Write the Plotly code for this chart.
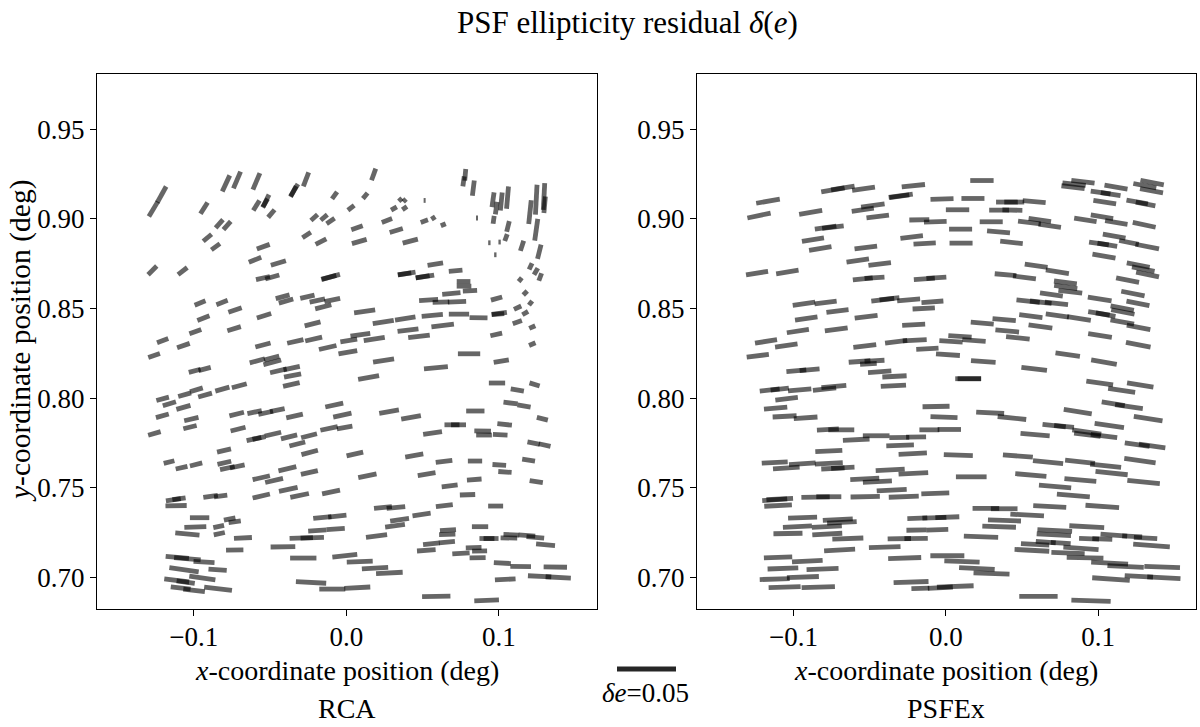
import plotly.graph_objects as go

# ---------------------------------------------------------------------------
# PSF ellipticity residual whiskers.
# For every star: position (deg), residual |delta e| and whisker orientation
# (degrees, counter-clockwise from the x axis).
# ---------------------------------------------------------------------------

# ---- RCA ----
rca_x = [
    -0.1264, -0.1209, -0.0788, -0.0716, -0.0589, -0.0341, -0.0347, -0.0264, -0.0526, -0.0589,
    -0.0532, -0.0491, -0.0932, -0.0077, -0.0832, -0.0781, -0.0910, -0.0856, -0.1270, -0.1072,
    -0.0210, -0.0146, -0.0103, -0.0260, -0.0166, -0.0544, -0.0598, -0.0445, -0.0546, -0.0485,
    -0.0103, -0.0113, -0.0958, -0.0814, -0.0729, -0.0936, -0.0539, -0.0417, -0.0395, -0.0255,
    -0.0190, -0.0092, -0.0151, -0.0221, -0.0989, -0.0735, -0.1203, -0.1067, -0.1259, -0.0546,
    -0.0334, -0.0214, -0.0122, -0.0583, -0.0489, -0.0485, -0.0993, -0.0928, -0.0445, -0.0358,
    -0.0352,
    0.0179, 0.0031, 0.0124, 0.0354, 0.0382, 0.0513, 0.0312, 0.0382, 0.0070, 0.0266,
    0.0511, 0.0570, 0.0635, 0.0327, 0.0085, 0.0419, 0.0768, 0.0779, 0.0832, 0.0961,
    0.0982, 0.1015, 0.1056, 0.0856, 0.0965, 0.1059, 0.1046, 0.0937, 0.1004, 0.0976,
    0.1151, 0.1203, 0.1244, 0.1295, 0.1299, 0.1244, 0.1264, 0.1207, 0.1242, 0.1270,
    0.1139, 0.1172, 0.1207, 0.1122, 0.1172, 0.1120, 0.1218, 0.1218, 0.0984, 0.1002,
    0.0993, 0.0982, 0.1015, 0.0583, 0.0716, 0.0395, 0.0382, 0.0515, 0.0500, 0.0768,
    0.0771, 0.0688, 0.0810, 0.0539, 0.0620, 0.0725, 0.0120, 0.0242, 0.0386, 0.0563,
    0.0738, 0.0866, 0.0631, 0.0404, 0.0476, 0.0092, 0.0183, 0.0016, 0.0010, 0.0244,
    0.0804, 0.0587, 0.0146,
    -0.1203, -0.1059, -0.0982, -0.0925, -0.0812, -0.0701, -0.0360, -0.1159, -0.1067, -0.1205,
    -0.1015, -0.1024, -0.1257, -0.0718, -0.0601, -0.0528, -0.0452, -0.0339, -0.0709, -0.0605,
    -0.0572, -0.0480, -0.0375, -0.0244, -0.0321, -0.0240, -0.0079, -0.0026, -0.0113, -0.0011,
    -0.0801, -0.1161, -0.1079, -0.0984, -0.0799, -0.0779, -0.0714, -0.0557, -0.0473, -0.0386,
    -0.0242, -0.1133, -0.1096, -0.1115, -0.0889, -0.0823, -0.0557, -0.0380, -0.0306, -0.0100,
    -0.0961, -0.0989, -0.1041, -0.0764, -0.0731, -0.0836, -0.0832, -0.0677, -0.0731, -0.0415,
    -0.0295, -0.0223, -0.0157, -0.0059, -0.0190, -0.0070, -0.1107, -0.1041, -0.0932, -0.0282,
    -0.0010, 0.0088, -0.1063, -0.0843, -0.0943, -0.1111, -0.1052, -0.1085, -0.0997, -0.0840,
    -0.0231, -0.0092, 0.0072,
    0.0987, 0.1120, 0.1233, 0.0280, 0.0424, 0.0845, 0.1076, 0.1164, 0.1284, 0.0692,
    0.0735, 0.0565, 0.0893, 0.1037, 0.0902, 0.1008, 0.1227, 0.1299, 0.0056, 0.0445,
    0.0640, 0.0843, 0.1002, 0.1039, 0.1194, 0.0138, 0.0526, 0.0838, 0.0677, 0.0794,
    0.1244, 0.0642, 0.0978, 0.0240, 0.0325, 0.0493, 0.0349, 0.0319, 0.0198, 0.0666,
    0.0661, 0.0659, 0.0557, 0.0524, 0.0751, 0.0834, 0.0873, 0.0860, 0.0876, 0.0921,
    0.0948, 0.1081, 0.1065, 0.1183, 0.1238, 0.1305, 0.0188, 0.0282, 0.1022, 0.1142,
    0.1369, 0.1041, 0.1266, 0.1388, 0.0589, 0.0919,
]
rca_y = [
    0.9054, 0.9135, 0.9197, 0.9216, 0.9208, 0.9160, 0.9152, 0.9219, 0.9100, 0.9074,
    0.9087, 0.9029, 0.9059, 0.9130, 0.8972, 0.8962, 0.8894, 0.8844, 0.8712, 0.8708,
    0.9007, 0.9007, 0.8987, 0.8909, 0.8872, 0.8844, 0.8771, 0.8753, 0.8669, 0.8675,
    0.8676, 0.8673, 0.8530, 0.8533, 0.8491, 0.8446, 0.8459, 0.8565, 0.8541, 0.8565,
    0.8544, 0.8547, 0.8509, 0.8414, 0.8371, 0.8387, 0.8320, 0.8293, 0.8238, 0.8296,
    0.8316, 0.8329, 0.8282, 0.8208, 0.8223, 0.8199, 0.8152, 0.8162, 0.8152, 0.8167,
    0.8126,
    0.9247, 0.9061, 0.9128, 0.9106, 0.9102, 0.9102, 0.9057, 0.9059, 0.8950, 0.8990,
    0.8987, 0.9004, 0.8966, 0.8934, 0.8873, 0.8875, 0.9208, 0.9245, 0.9171, 0.9106,
    0.9059, 0.9096, 0.9118, 0.9004, 0.8994, 0.8957, 0.8895, 0.8866, 0.8870, 0.8799,
    0.8849, 0.9037, 0.9106, 0.9124, 0.9078, 0.8939, 0.8816, 0.8734, 0.8706, 0.8675,
    0.8660, 0.8586, 0.8530, 0.8504, 0.8474, 0.8424, 0.8396, 0.8301, 0.8555, 0.8472,
    0.8468, 0.8355, 0.8206, 0.8747, 0.8710, 0.8695, 0.8693, 0.8678, 0.8676, 0.8650,
    0.8624, 0.8583, 0.8598, 0.8547, 0.8535, 0.8537, 0.8483, 0.8424, 0.8444, 0.8461,
    0.8468, 0.8448, 0.8405, 0.8379, 0.8344, 0.8353, 0.8329, 0.8321, 0.8256, 0.8210,
    0.8247, 0.8169, 0.8115,
    0.7996, 0.8019, 0.8046, 0.8017, 0.8050, 0.8069, 0.8076, 0.7968, 0.7948, 0.7901,
    0.7883, 0.7838, 0.7803, 0.7911, 0.7922, 0.7918, 0.7933, 0.7900, 0.7827, 0.7772,
    0.7777, 0.7799, 0.7784, 0.7790, 0.7744, 0.7697, 0.7961, 0.7905, 0.7831, 0.7836,
    0.7708, 0.7643, 0.7612, 0.7630, 0.7639, 0.7610, 0.7619, 0.7556, 0.7541, 0.7606,
    0.7585, 0.7433, 0.7439, 0.7400, 0.7452, 0.7454, 0.7454, 0.7491, 0.7457, 0.7476,
    0.7333, 0.7281, 0.7242, 0.7326, 0.7311, 0.7284, 0.7244, 0.7220, 0.7153, 0.7171,
    0.7220, 0.7221, 0.7334, 0.7342, 0.7262, 0.7270, 0.7112, 0.7104, 0.7086, 0.7108,
    0.7121, 0.7088, 0.7043, 0.7043, 0.6997, 0.6983, 0.6974, 0.6941, 0.6928, 0.6937,
    0.6972, 0.6935, 0.6943,
    0.8084, 0.8045, 0.8076, 0.7925, 0.7892, 0.7928, 0.7972, 0.7956, 0.7885, 0.7851,
    0.7851, 0.7805, 0.7816, 0.7853, 0.7794, 0.7796, 0.7749, 0.7738, 0.7688, 0.7680,
    0.7647, 0.7649, 0.7627, 0.7588, 0.7654, 0.7567, 0.7576, 0.7546, 0.7510, 0.7461,
    0.7534, 0.7400, 0.7398, 0.7390, 0.7390, 0.7351, 0.7322, 0.7288, 0.7231, 0.7264,
    0.7240, 0.7197, 0.7188, 0.7151, 0.7134, 0.7166, 0.7147, 0.7110, 0.7283, 0.7217,
    0.7217, 0.7238, 0.7220, 0.7234, 0.7223, 0.7182, 0.7052, 0.7025, 0.7080, 0.7061,
    0.7058, 0.6989, 0.7006, 0.7000, 0.6894, 0.6872,
]
rca_de = [
    0.0147, 0.0155, 0.0150, 0.0155, 0.0152, 0.0121, 0.0102, 0.0127, 0.0116, 0.0099,
    0.0085, 0.0085, 0.0113, 0.0073, 0.0093, 0.0093, 0.0093, 0.0090, 0.0104, 0.0099,
    0.0076, 0.0073, 0.0082, 0.0085, 0.0102, 0.0116, 0.0113, 0.0133, 0.0121, 0.0124,
    0.0164, 0.0127, 0.0099, 0.0102, 0.0119, 0.0110, 0.0127, 0.0121, 0.0127, 0.0124,
    0.0133, 0.0136, 0.0141, 0.0138, 0.0107, 0.0119, 0.0102, 0.0113, 0.0104, 0.0133,
    0.0141, 0.0147, 0.0152, 0.0133, 0.0133, 0.0155, 0.0104, 0.0107, 0.0144, 0.0141,
    0.0147,
    0.0104, 0.0068, 0.0062, 0.0037, 0.0034, 0.0017, 0.0056, 0.0048, 0.0102, 0.0093,
    0.0065, 0.0040, 0.0045, 0.0116, 0.0130, 0.0133, 0.0085, 0.0099, 0.0130, 0.0127,
    0.0107, 0.0152, 0.0189, 0.0017, 0.0068, 0.0093, 0.0062, 0.0020, 0.0020, 0.0020,
    0.0090, 0.0203, 0.0254, 0.0226, 0.0141, 0.0186, 0.0124, 0.0059, 0.0065, 0.0068,
    0.0042, 0.0048, 0.0045, 0.0068, 0.0056, 0.0082, 0.0056, 0.0059, 0.0099, 0.0130,
    0.0107, 0.0102, 0.0130, 0.0133, 0.0116, 0.0152, 0.0113, 0.0158, 0.0119, 0.0116,
    0.0124, 0.0155, 0.0121, 0.0161, 0.0141, 0.0155, 0.0180, 0.0180, 0.0175, 0.0180,
    0.0172, 0.0152, 0.0192, 0.0178, 0.0184, 0.0169, 0.0180, 0.0144, 0.0161, 0.0180,
    0.0189, 0.0203, 0.0180,
    0.0110, 0.0113, 0.0113, 0.0121, 0.0124, 0.0130, 0.0144, 0.0116, 0.0124, 0.0113,
    0.0124, 0.0116, 0.0110, 0.0127, 0.0124, 0.0127, 0.0127, 0.0144, 0.0130, 0.0127,
    0.0113, 0.0141, 0.0141, 0.0138, 0.0138, 0.0144, 0.0155, 0.0158, 0.0150, 0.0133,
    0.0121, 0.0093, 0.0102, 0.0107, 0.0119, 0.0127, 0.0127, 0.0150, 0.0155, 0.0155,
    0.0147, 0.0127, 0.0113, 0.0180, 0.0124, 0.0113, 0.0150, 0.0161, 0.0161, 0.0155,
    0.0164, 0.0186, 0.0206, 0.0099, 0.0104, 0.0093, 0.0096, 0.0152, 0.0147, 0.0209,
    0.0198, 0.0198, 0.0155, 0.0155, 0.0155, 0.0155, 0.0198, 0.0226, 0.0178, 0.0223,
    0.0212, 0.0220, 0.0251, 0.0155, 0.0223, 0.0212, 0.0155, 0.0169, 0.0184, 0.0237,
    0.0257, 0.0220, 0.0220,
    0.0138, 0.0113, 0.0090, 0.0169, 0.0169, 0.0155, 0.0121, 0.0113, 0.0096, 0.0127,
    0.0127, 0.0161, 0.0141, 0.0124, 0.0133, 0.0124, 0.0107, 0.0102, 0.0144, 0.0155,
    0.0141, 0.0121, 0.0116, 0.0113, 0.0110, 0.0158, 0.0152, 0.0124, 0.0136, 0.0130,
    0.0113, 0.0144, 0.0127, 0.0152, 0.0158, 0.0155, 0.0161, 0.0169, 0.0180, 0.0136,
    0.0138, 0.0136, 0.0141, 0.0158, 0.0147, 0.0133, 0.0127, 0.0136, 0.0138, 0.0127,
    0.0127, 0.0133, 0.0141, 0.0141, 0.0150, 0.0161, 0.0223, 0.0226, 0.0144, 0.0175,
    0.0198, 0.0175, 0.0198, 0.0214, 0.0240, 0.0209,
]
rca_angle = [
    59, 61, 65, 67, 67, 59, 62, 69, 64, 58,
    60, 50, 58, 54, 48, 48, 40, 36, 45, 38,
    42, 40, 34, 33, 27, 20, 22, 17, 13, 16,
    15, 15, 22, 21, 19, 21, 17, 15, 16, 13,
    12, 12, 14, 14, 20, 17, 21, 19, 19, 15,
    13, 13, 13, 15, 15, 15, 15, 15, 13, 12,
    11,
    70, 38, 50, 42, 45, 0, 30, 35, 19, 21,
    20, 34, 22, 17, 16, 15, 82, 85, 83, 82,
    82, 84, 85, 0, 82, 76, 70, 0, 0, 0,
    72, 84, 87, 87, 85, 82, 76, 65, 60, 70,
    50, 45, 52, 25, 30, 20, 24, 23, 16, 8,
    5, 13, 10, 9, 5, 9, 9, 9, 9, 0,
    0, 5, 3, 4, 2, 2, 8, 9, 9, 5,
    0, -1, 7, 7, 7, 8, 9, 9, 10, 9,
    0, 5, 10,
    15, 16, 17, 16, 16, 15, 13, 17, 16, 16,
    13, 14, 16, 14, 12, 12, 12, 13, 14, 12,
    12, 13, 14, 14, 14, 15, 12, 12, 12, 10,
    13, 14, 13, 14, 13, 12, 12, 13, 13, 13,
    13, 8, 8, 1, 8, 8, 13, 12, 12, 12,
    0, 2, -5, 11, 8, 12, 12, 3, 1, 1,
    2, 2, 6, 6, 4, 4, -5, -5, -3, 0,
    6, 2, -8, -4, -8, -7, -8, -7, -7, -7,
    -3, 0, 3,
    0, -10, -17, 10, 10, 0, -7, -10, -14, 0,
    0, 8, -1, -6, 0, -3, -11, -13, 13, 10,
    7, 0, -4, -4, -9, 12, 9, 4, 7, 2,
    -9, 7, 0, 6, 6, 8, 8, 8, 7, 4,
    2, 5, 6, 4, 3, 1, 1, 1, 0, 0,
    0, -2, -1, -4, -5, -5, 3, 3, -3, -1,
    -1, 3, -3, -3, 1, 2,
]

# ---- PSFEx ----
psfex_x = [
    -0.1167, -0.1226, -0.0887, -0.0741, -0.0676, -0.0540, -0.0296, -0.0305, -0.0213, -0.0479,
    -0.0545, -0.0447, -0.0789, -0.0741, -0.0872, -0.0824, -0.0525, -0.0578, -0.0434, -0.0224,
    -0.0139, -0.0174, -0.0069, -0.1239, -0.1040, -0.0545, -0.0468, -0.0141, -0.0062, -0.0931,
    -0.0789, -0.0711, -0.0916, -0.0523, -0.0414, -0.0370, -0.0244, -0.0088, -0.0145, -0.0211,
    -0.0971, -0.0719, -0.1180, -0.1047, -0.0532, -0.0326, -0.0204, -0.0121, -0.1234, -0.0566,
    -0.0468, -0.0508, -0.0981, -0.0894, -0.0434, -0.0337, -0.0344, -0.1156, -0.1090, -0.0959,
    -0.0796, -0.0735, -0.1045, -0.1117, -0.1058, -0.0920, -0.0774, -0.0686, -0.0108, -0.0588,
    -0.0457, -0.0305, -0.0195, -0.0300, -0.0217, -0.0768, -0.1123, -0.0942, -0.0768, -0.1047,
    -0.0741, -0.0676, -0.0365, -0.0213, -0.0532, -0.0449, -0.0355, -0.1123, -0.1090, -0.1101,
    -0.0855, -0.0768, -0.0529, -0.0276, -0.0069, -0.0940, -0.0709, -0.0682, -0.0974, -0.0781,
    -0.1036, -0.0778, -0.0643, -0.0187, -0.0075, 0.0010, -0.0193, -0.0056, -0.0305, -0.0195,
    -0.0697, -0.0401, -0.1101, -0.0909, -0.0270, -0.1069, -0.0809, -0.1123, -0.0938, -0.1058,
    -0.0837, -0.0228, -0.0167, -0.0036,
    0.0237, 0.0900, 0.0842, 0.0835, 0.1117, 0.1354, 0.1306, 0.1350, 0.1016, 0.1082,
    0.1043, 0.1256, 0.1311, -0.0025, 0.0178, 0.0401, 0.0449, 0.0580, 0.0077, 0.0350,
    0.0437, 0.0298, 0.0617, 0.0549, 0.0682, 0.0916, 0.1025, 0.1119, 0.1302, 0.0097,
    0.0346, 0.0100, 0.0431, 0.1105, 0.1005, 0.1060, 0.1202, 0.1322, 0.1038, 0.0593,
    0.0732, 0.1263, 0.1296, 0.1324, 0.0392, 0.0516, 0.0785, 0.0787, 0.0817, 0.1193,
    0.0693, 0.1228, 0.1010, 0.1261, 0.0540, 0.0623, 0.0726, 0.1158, 0.1162, 0.1005,
    0.1049, 0.1265, 0.1158, 0.0732, 0.0874, 0.0558, 0.0621, 0.0383, 0.0239, 0.0403,
    0.0473, 0.0093, 0.0185, 0.0034, 0.1012, 0.1263, 0.0014, 0.0800, 0.0246, 0.1038,
    0.0580, 0.0147, 0.0154, 0.1010, 0.1276, 0.1154, 0.1099, 0.1202, 0.0866, 0.1328,
    0.0434, 0.0291, -0.0012, -0.0064, 0.0711, 0.0776, 0.1073, 0.0925, 0.0929, 0.1038,
    0.0586, 0.1256, 0.1354, 0.0023, 0.0082, 0.0473, 0.0671, 0.0881, 0.1049, 0.1274,
    0.0167, 0.0558, 0.1088, 0.0883, 0.1298, 0.0717, 0.0837, 0.0263, 0.0383, 0.0682,
    0.1027, 0.0534, 0.0385, 0.0350, 0.0925, 0.0715, 0.0709, 0.0231, 0.0656, 0.0754,
    0.0586, 0.0940, 0.1027, 0.1103, 0.1223, 0.1311, 0.0887, 0.0802, 0.0914, 0.0565,
    0.1350, 0.0010, 0.0106, 0.0204, 0.0300, 0.1075, 0.1180, 0.1420, 0.1084, 0.1267,
    0.1431, 0.0062, 0.0608, 0.0953,
]
psfex_y = [
    0.9098, 0.9018, 0.9035, 0.9161, 0.9171, 0.9167, 0.9128, 0.9126, 0.9184, 0.9074,
    0.9050, 0.9013, 0.8951, 0.8953, 0.8884, 0.8834, 0.8840, 0.8767, 0.8747, 0.8898,
    0.8862, 0.8994, 0.8983, 0.8697, 0.8703, 0.8665, 0.8671, 0.8665, 0.8671, 0.8526,
    0.8533, 0.8485, 0.8444, 0.8453, 0.8548, 0.8554, 0.8547, 0.8537, 0.8500, 0.8409,
    0.8374, 0.8383, 0.8316, 0.8293, 0.8290, 0.8314, 0.8323, 0.8275, 0.8236, 0.8204,
    0.8208, 0.8191, 0.8152, 0.8158, 0.8147, 0.8121, 0.8069, 0.8045, 0.8050, 0.8046,
    0.8050, 0.8065, 0.7996, 0.7944, 0.7898, 0.7890, 0.7825, 0.7823, 0.7823, 0.7768,
    0.7790, 0.7780, 0.7783, 0.7736, 0.7690, 0.7705, 0.7641, 0.7634, 0.7636, 0.7610,
    0.7608, 0.7612, 0.7600, 0.7580, 0.7550, 0.7534, 0.7487, 0.7433, 0.7437, 0.7401,
    0.7448, 0.7450, 0.7450, 0.7450, 0.7469, 0.7334, 0.7322, 0.7307, 0.7283, 0.7283,
    0.7245, 0.7242, 0.7217, 0.7330, 0.7333, 0.7336, 0.7264, 0.7266, 0.7216, 0.7217,
    0.7153, 0.7169, 0.7112, 0.7091, 0.7108, 0.7050, 0.7047, 0.6991, 0.7002, 0.6946,
    0.6946, 0.6974, 0.6939, 0.6943,
    0.9213, 0.9206, 0.9193, 0.9176, 0.9176, 0.9202, 0.9184, 0.9156, 0.9146, 0.9137,
    0.9093, 0.9093, 0.9082, 0.9110, 0.9113, 0.9093, 0.9093, 0.9096, 0.9050, 0.9048,
    0.9048, 0.8983, 0.8993, 0.8979, 0.8961, 0.8994, 0.9011, 0.8979, 0.8966, 0.8942,
    0.8927, 0.8864, 0.8868, 0.8903, 0.8862, 0.8855, 0.8868, 0.8845, 0.8792, 0.8738,
    0.8704, 0.8742, 0.8719, 0.8689, 0.8688, 0.8673, 0.8645, 0.8619, 0.8593, 0.8658,
    0.8578, 0.8583, 0.8552, 0.8528, 0.8541, 0.8535, 0.8528, 0.8502, 0.8480, 0.8472,
    0.8465, 0.8394, 0.8424, 0.8461, 0.8444, 0.8457, 0.8399, 0.8437, 0.8418, 0.8374,
    0.8336, 0.8344, 0.8321, 0.8316, 0.8349, 0.8297, 0.8242, 0.8242, 0.8204, 0.8201,
    0.8163, 0.8108, 0.8108, 0.8084, 0.8073, 0.8043, 0.7968, 0.7952, 0.7925, 0.7886,
    0.7889, 0.7918, 0.7894, 0.7953, 0.7846, 0.7842, 0.7847, 0.7811, 0.7796, 0.7788,
    0.7796, 0.7741, 0.7733, 0.7825, 0.7682, 0.7677, 0.7643, 0.7645, 0.7623, 0.7651,
    0.7561, 0.7571, 0.7582, 0.7543, 0.7532, 0.7507, 0.7457, 0.7385, 0.7383, 0.7396,
    0.7396, 0.7348, 0.7318, 0.7283, 0.7283, 0.7262, 0.7238, 0.7227, 0.7197, 0.7192,
    0.7184, 0.7216, 0.7214, 0.7236, 0.7229, 0.7220, 0.7162, 0.7136, 0.7110, 0.7151,
    0.7178, 0.7121, 0.7089, 0.7050, 0.7022, 0.7080, 0.7061, 0.7058, 0.6991, 0.7006,
    0.6998, 0.6950, 0.6894, 0.6870,
]
psfex_de = [
    0.0203, 0.0201, 0.0198, 0.0201, 0.0201, 0.0195, 0.0206, 0.0169, 0.0198, 0.0201,
    0.0189, 0.0192, 0.0184, 0.0184, 0.0189, 0.0192, 0.0192, 0.0192, 0.0192, 0.0192,
    0.0189, 0.0169, 0.0192, 0.0189, 0.0192, 0.0169, 0.0169, 0.0178, 0.0169, 0.0192,
    0.0189, 0.0189, 0.0192, 0.0195, 0.0195, 0.0169, 0.0195, 0.0186, 0.0189, 0.0195,
    0.0189, 0.0195, 0.0189, 0.0192, 0.0195, 0.0189, 0.0203, 0.0189, 0.0189, 0.0184,
    0.0169, 0.0141, 0.0169, 0.0169, 0.0198, 0.0206, 0.0214, 0.0169, 0.0155, 0.0198,
    0.0198, 0.0212, 0.0192, 0.0198, 0.0203, 0.0201, 0.0186, 0.0220, 0.0169, 0.0226,
    0.0226, 0.0169, 0.0169, 0.0234, 0.0240, 0.0229, 0.0220, 0.0226, 0.0237, 0.0226,
    0.0198, 0.0198, 0.0246, 0.0251, 0.0246, 0.0246, 0.0254, 0.0212, 0.0226, 0.0234,
    0.0240, 0.0212, 0.0248, 0.0254, 0.0237, 0.0246, 0.0254, 0.0251, 0.0246, 0.0254,
    0.0246, 0.0254, 0.0263, 0.0169, 0.0203, 0.0203, 0.0169, 0.0186, 0.0198, 0.0198,
    0.0263, 0.0268, 0.0240, 0.0260, 0.0280, 0.0260, 0.0271, 0.0254, 0.0271, 0.0271,
    0.0282, 0.0296, 0.0152, 0.0212,
    0.0198, 0.0198, 0.0198, 0.0198, 0.0198, 0.0201, 0.0198, 0.0198, 0.0169, 0.0169,
    0.0195, 0.0184, 0.0169, 0.0195, 0.0195, 0.0184, 0.0169, 0.0195, 0.0198, 0.0169,
    0.0169, 0.0195, 0.0192, 0.0195, 0.0192, 0.0192, 0.0192, 0.0192, 0.0198, 0.0195,
    0.0195, 0.0195, 0.0192, 0.0195, 0.0169, 0.0169, 0.0169, 0.0203, 0.0198, 0.0195,
    0.0198, 0.0198, 0.0195, 0.0198, 0.0184, 0.0195, 0.0195, 0.0198, 0.0203, 0.0198,
    0.0195, 0.0201, 0.0203, 0.0198, 0.0198, 0.0184, 0.0198, 0.0201, 0.0201, 0.0184,
    0.0169, 0.0203, 0.0203, 0.0198, 0.0203, 0.0198, 0.0203, 0.0198, 0.0195, 0.0201,
    0.0201, 0.0198, 0.0198, 0.0198, 0.0203, 0.0212, 0.0203, 0.0209, 0.0209, 0.0220,
    0.0218, 0.0220, 0.0198, 0.0229, 0.0226, 0.0231, 0.0198, 0.0237, 0.0240, 0.0246,
    0.0243, 0.0237, 0.0229, 0.0229, 0.0198, 0.0169, 0.0251, 0.0248, 0.0226, 0.0226,
    0.0248, 0.0212, 0.0226, 0.0198, 0.0246, 0.0254, 0.0257, 0.0254, 0.0263, 0.0268,
    0.0260, 0.0265, 0.0274, 0.0271, 0.0277, 0.0274, 0.0280, 0.0226, 0.0226, 0.0280,
    0.0285, 0.0285, 0.0280, 0.0285, 0.0296, 0.0294, 0.0291, 0.0291, 0.0169, 0.0169,
    0.0240, 0.0169, 0.0169, 0.0226, 0.0169, 0.0198, 0.0299, 0.0282, 0.0311, 0.0294,
    0.0311, 0.0288, 0.0299, 0.0302, 0.0305, 0.0313, 0.0308, 0.0302, 0.0319, 0.0240,
    0.0282, 0.0311, 0.0325, 0.0333,
]
psfex_angle = [
    10, 12, 10, 10, 9, 8, 8, 8, 6, 8,
    8, 7, 8, 7, 9, 9, 7, 8, 7, 7,
    3, 1, 2, 9, 9, 6, 4, 4, 4, 8,
    7, 7, 8, 7, 7, 6, 5, 4, 3, 3,
    9, 8, 9, 8, 7, 7, 3, 3, 7, 4,
    3, 3, 5, 5, 4, 3, 3, 6, 6, 5,
    6, 5, 7, 5, 3, 4, 3, 0, 0, 3,
    0, 1, 1, 2, 3, 3, 3, 4, 3, 4,
    3, 3, 3, 3, 3, 3, 3, 4, 3, 3,
    1, 0, 1, 2, 2, 2, 3, 3, 3, 3,
    1, 3, 2, 2, 2, 2, 1, 2, 1, 1,
    3, 2, 2, 3, 2, 2, 2, 2, 2, 2,
    2, 2, 2, 3,
    0, -7, -6, -7, -10, -11, -11, -10, -8, -9,
    -9, -10, -11, 2, 0, 0, 0, -5, 0, 0,
    -1, 0, -8, -7, -8, -9, -9, -9, -12, 0,
    -5, 0, -6, -10, -8, -9, -11, -11, -10, -8,
    -9, -11, -11, -12, -5, -7, -7, -8, -7, -11,
    -8, -11, -9, -11, -6, -6, -6, -11, -11, -9,
    -10, -11, -10, -8, -9, -7, -8, -5, -5, -5,
    -6, -4, -4, -4, -9, -11, -4, -8, -4, -10,
    -7, 0, 0, -8, -9, -8, -9, -8, -9, -9,
    -6, -3, -2, 1, -6, -6, -8, -8, -7, -7,
    -5, -8, -8, 0, -2, -4, -6, -6, -6, -8,
    0, -5, -6, -5, -6, -5, -5, 0, 0, -3,
    -4, -3, -2, -2, -3, -3, -3, -2, -4, -4,
    -3, -2, -2, -4, -3, -3, -4, -2, -1, -3,
    -4, 0, -2, -3, -2, -3, -3, -2, -4, -3,
    -3, 2, 0, -2,
]

# ticks and labels
x_ticks = [-0.1, 0.0, 0.1]
x_ticklabels = ["\u22120.1", "0.0", "0.1"]
y_ticks = [0.70, 0.75, 0.80, 0.85, 0.90, 0.95]
key_de = 0.05

# ---------------------------------------------------------------------------
W, H = 1200, 727
PX_PER_DE = 59 / 0.05          # whisker length scale (pixels per unit delta e)
STICK = "rgba(0,0,0,0.85)"
STICK_W = 4.8
SERIF = "Liberation Serif"


def px(v):
    return v / W


def py(v):
    return 1 - v / H


def whiskers(x, y, de, ang, xa, ya):
    # 'line-ew' symbol is 1.4*size long; marker.angle is clockwise
    return go.Scatter(
        x=x, y=y, xaxis=xa, yaxis=ya, mode="markers",
        marker=dict(symbol="line-ew",
                    size=[d * PX_PER_DE / 1.4 for d in de],
                    angle=[-a for a in ang],
                    color=STICK,
                    line=dict(width=STICK_W, color=STICK)),
        hoverinfo="skip", showlegend=False)


fig = go.Figure()
fig.add_trace(whiskers(rca_x, rca_y, rca_de, rca_angle, "x", "y"))
fig.add_trace(whiskers(psfex_x, psfex_y, psfex_de, psfex_angle, "x2", "y2"))

axis_style = dict(showline=True, linecolor="black", linewidth=1.3, mirror=True,
                  ticks="outside", ticklen=6, tickwidth=1.2, tickcolor="black",
                  showgrid=False, zeroline=False, automargin=False,
                  tickfont=dict(family=SERIF, size=27, color="black"))
xr = [-0.1633, 0.1642]
yr = [0.6824, 0.9807]
ydom = [py(609), py(74)]

fig.update_layout(
    width=W, height=H,
    margin=dict(l=0, r=0, t=0, b=0),
    paper_bgcolor="white", plot_bgcolor="white",
    xaxis=dict(domain=[px(97), px(597)], range=xr, anchor="y", ticklabelstandoff=-3,
               tickvals=x_ticks, ticktext=x_ticklabels, **axis_style),
    yaxis=dict(domain=ydom, range=yr, anchor="x",
               tickvals=y_ticks, tickformat=".2f", **axis_style),
    xaxis2=dict(domain=[px(697), px(1196)], range=xr, anchor="y2", ticklabelstandoff=-3,
                tickvals=x_ticks, ticktext=x_ticklabels, **axis_style),
    yaxis2=dict(domain=ydom, range=yr, anchor="x2",
                tickvals=y_ticks, tickformat=".2f", **axis_style),
)

def label(text, x, y, size, angle=0):
    fig.add_annotation(text=text, x=px(x), y=py(y), xref="paper", yref="paper",
                       showarrow=False, textangle=angle, xanchor="center", yanchor="middle",
                       font=dict(family=SERIF, size=size, color="black"))

label("PSF ellipticity residual <i>δ</i>(<i>e</i>)", 627, 22, 31)
label("<i>x</i>-coordinate position (deg)", 347, 670, 28)
label("<i>x</i>-coordinate position (deg)", 946.5, 670, 28)
label("<i>y</i>-coordinate position (deg)", 20, 341, 29.5, angle=-90)
label("RCA", 347, 708, 28)
label("PSFEx", 946.5, 708, 28)

# whisker scale key
key_half = key_de * PX_PER_DE / 2
fig.add_shape(type="line", xref="paper", yref="paper",
              x0=px(646.5 - key_half), x1=px(646.5 + key_half), y0=py(669), y1=py(669),
              line=dict(color=STICK, width=STICK_W))
label("<i>δe</i>=0.05", 645, 693, 27)

# the page should show the figure flush with the window corner, no toolbar
fig.write_html("out.html", config={"displayModeBar": False},
               post_script="document.body.style.margin='0';")
